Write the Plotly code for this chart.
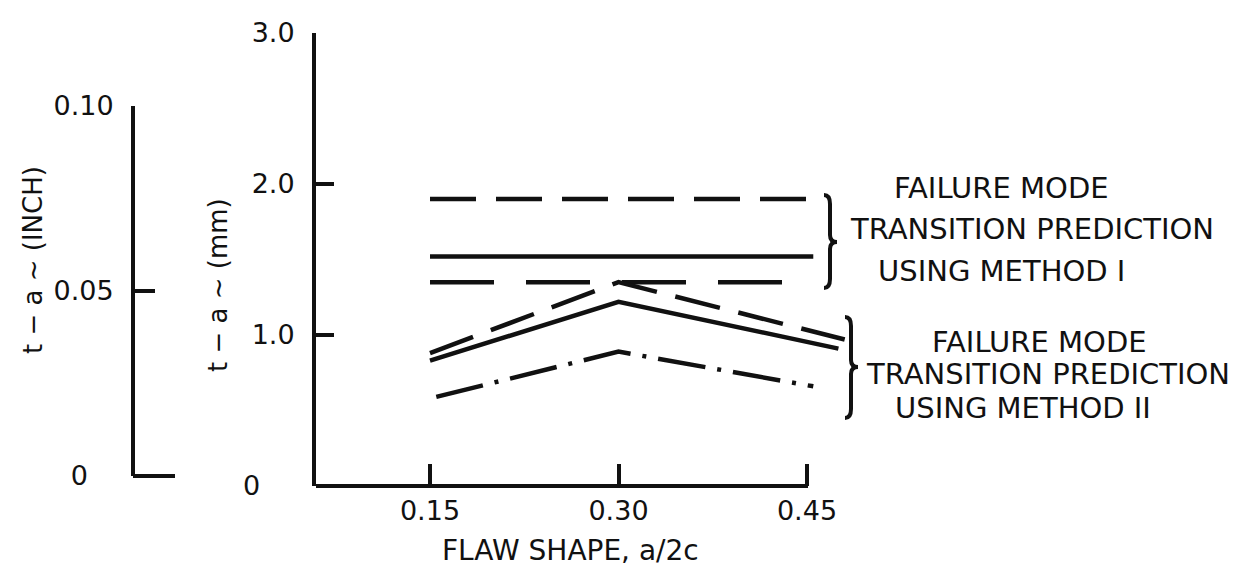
import plotly.graph_objects as go

# ---- data: crack depth to thickness margin t - a versus flaw shape a/2c ----
# Method I predictions (constant over flaw shape)
x_m1 = [0.15, 0.455]
m1_upper = [1.90, 1.90]
m1_mid = [1.52, 1.52]
m1_lower = [1.35, 1.35]

# Method II predictions
x_m2_dash = [0.15, 0.30, 0.48]
m2_dash = [0.88, 1.35, 0.97]
x_m2_solid = [0.15, 0.30, 0.475]
m2_solid = [0.83, 1.22, 0.91]
x_m2_dashdot = [0.155, 0.30, 0.455]
m2_dashdot = [0.59, 0.89, 0.66]

# axis ticks
NB = "\u00a0"
x_ticks = [0.15, 0.30, 0.45]
x_ticktext = ["0.15", "0.30", "0.45"]
mm_ticks = [0, 1, 2, 3]
mm_ticktext = ["0" + NB * 4, "1.0", "2.0", "3.0"]
inch_ticks = [0, 0.05, 0.10]
inch_ticktext = ["0" + NB * 3, "0.05", "0.10"]

# ---- page geometry (pixels) ----
W, H = 1245, 576
L, R_EDGE, T, B_EDGE = 133, 850, 33, 486
PW, PH = R_EDGE - L, B_EDGE - T


def fx(px):
    return (px - L) / PW


def fy(py):
    return (B_EDGE - py) / PH


INK = "#111111"
FONT = "DejaVu Sans"
LW = 4.5

fig = go.Figure()


def add_line(x, y, dash):
    fig.add_trace(go.Scatter(x=x, y=y, mode="lines",
                             line=dict(color=INK, width=LW, dash=dash),
                             hoverinfo="skip", showlegend=False))


add_line(x_m1, m1_upper, "46px,20px")
add_line(x_m1, m1_mid, "solid")
add_line(x_m1, m1_lower, "64px,32px")
add_line(x_m2_dash, m2_dash, "46px,19px")
add_line(x_m2_solid, m2_solid, "solid")
add_line(x_m2_dashdot, m2_dashdot, "48px,12px,4px,12px")

# invisible anchor so the inch axis is drawn
fig.add_trace(go.Scatter(x=[0.3], y=[0.05], yaxis="y2", mode="markers",
                         marker=dict(opacity=0), hoverinfo="skip",
                         showlegend=False))

# x scale: 0.15 units span 188 px
px_per_unit = 377 / 0.30
x_lo = 0.15 - (430 - 316) / px_per_unit
x_hi = 0.15 + (R_EDGE - 430) / px_per_unit
x_axis_end = 0.45 + 1 / px_per_unit

tickfont = dict(family=FONT, size=27, color=INK)

fig.update_layout(
    width=W, height=H,
    margin=dict(l=L, r=W - R_EDGE, t=T, b=H - B_EDGE),
    paper_bgcolor="white", plot_bgcolor="rgba(0,0,0,0)",
    xaxis=dict(domain=[fx(316), 1], range=[x_lo, x_hi],
               tickvals=x_ticks, ticktext=x_ticktext,
               ticks="inside", ticklen=22, tickwidth=3.5, tickcolor=INK,
               showline=False, showgrid=False, zeroline=False,
               tickfont=tickfont, ticklabelstandoff=6),
    yaxis=dict(domain=[0, 1], range=[0, 3],
               tickvals=mm_ticks, ticktext=mm_ticktext,
               ticks="inside", ticklen=18, tickwidth=3.5, tickcolor=INK,
               showline=True, linewidth=4, linecolor=INK,
               showgrid=False, zeroline=False,
               tickfont=tickfont, ticklabelstandoff=12),
    yaxis2=dict(domain=[fy(476), fy(106)], range=[0, 0.10],
                anchor="free", position=0,
                tickvals=inch_ticks, ticktext=inch_ticktext,
                ticks="inside", ticklen=20, tickwidth=3.5, tickcolor=INK,
                showline=True, linewidth=4, linecolor=INK,
                showgrid=False, zeroline=False,
                tickfont=tickfont, ticklabelstandoff=12),
)

# x axis line, stopping at 0.45
fig.add_shape(type="line", xref="x", yref="paper", x0=x_lo, x1=x_axis_end,
              y0=0, y1=0, line=dict(color=INK, width=4))
# longer base tick on the inch scale
fig.add_shape(type="line", xref="paper", yref="paper", x0=0, x1=fx(175),
              y0=fy(476), y1=fy(476), line=dict(color=INK, width=4))


def brace(xc, y1, y2, ym):
    pts = [
        f"M {fx(xc - 6)},{fy(y1)}",
        f"Q {fx(xc)},{fy(y1)} {fx(xc)},{fy(y1 + 9)}",
        f"L {fx(xc)},{fy(ym - 7)}",
        f"Q {fx(xc)},{fy(ym)} {fx(xc + 7)},{fy(ym)}",
        f"Q {fx(xc)},{fy(ym)} {fx(xc)},{fy(ym + 7)}",
        f"L {fx(xc)},{fy(y2 - 9)}",
        f"Q {fx(xc)},{fy(y2)} {fx(xc - 6)},{fy(y2)}",
    ]
    fig.add_shape(type="path", xref="paper", yref="paper", path=" ".join(pts),
                  line=dict(color=INK, width=4))


brace(830, 195, 288, 242)
brace(851, 317, 418, 367)


def label(text, px, py, size=29, anchor="left", angle=0):
    fig.add_annotation(text=text, xref="paper", yref="paper",
                       x=fx(px), y=fy(py), xanchor=anchor, yanchor="middle",
                       showarrow=False, textangle=angle,
                       font=dict(family=FONT, size=size, color=INK))


label("FAILURE MODE", 892, 188)
label("TRANSITION PREDICTION", 848, 229)
label("USING METHOD I", 876, 271)
label("FAILURE MODE", 930, 342)
label("TRANSITION PREDICTION", 864, 374)
label("USING METHOD II", 893, 408)

label("FLAW SHAPE, a/2c", 570, 550, size=28, anchor="center")
label("t − a ~ (mm)", 218, 285, size=26, anchor="center", angle=-90)
label("t − a ~ (INCH)", 33, 260, size=26, anchor="center", angle=-90)

fig.write_html("out.html")
